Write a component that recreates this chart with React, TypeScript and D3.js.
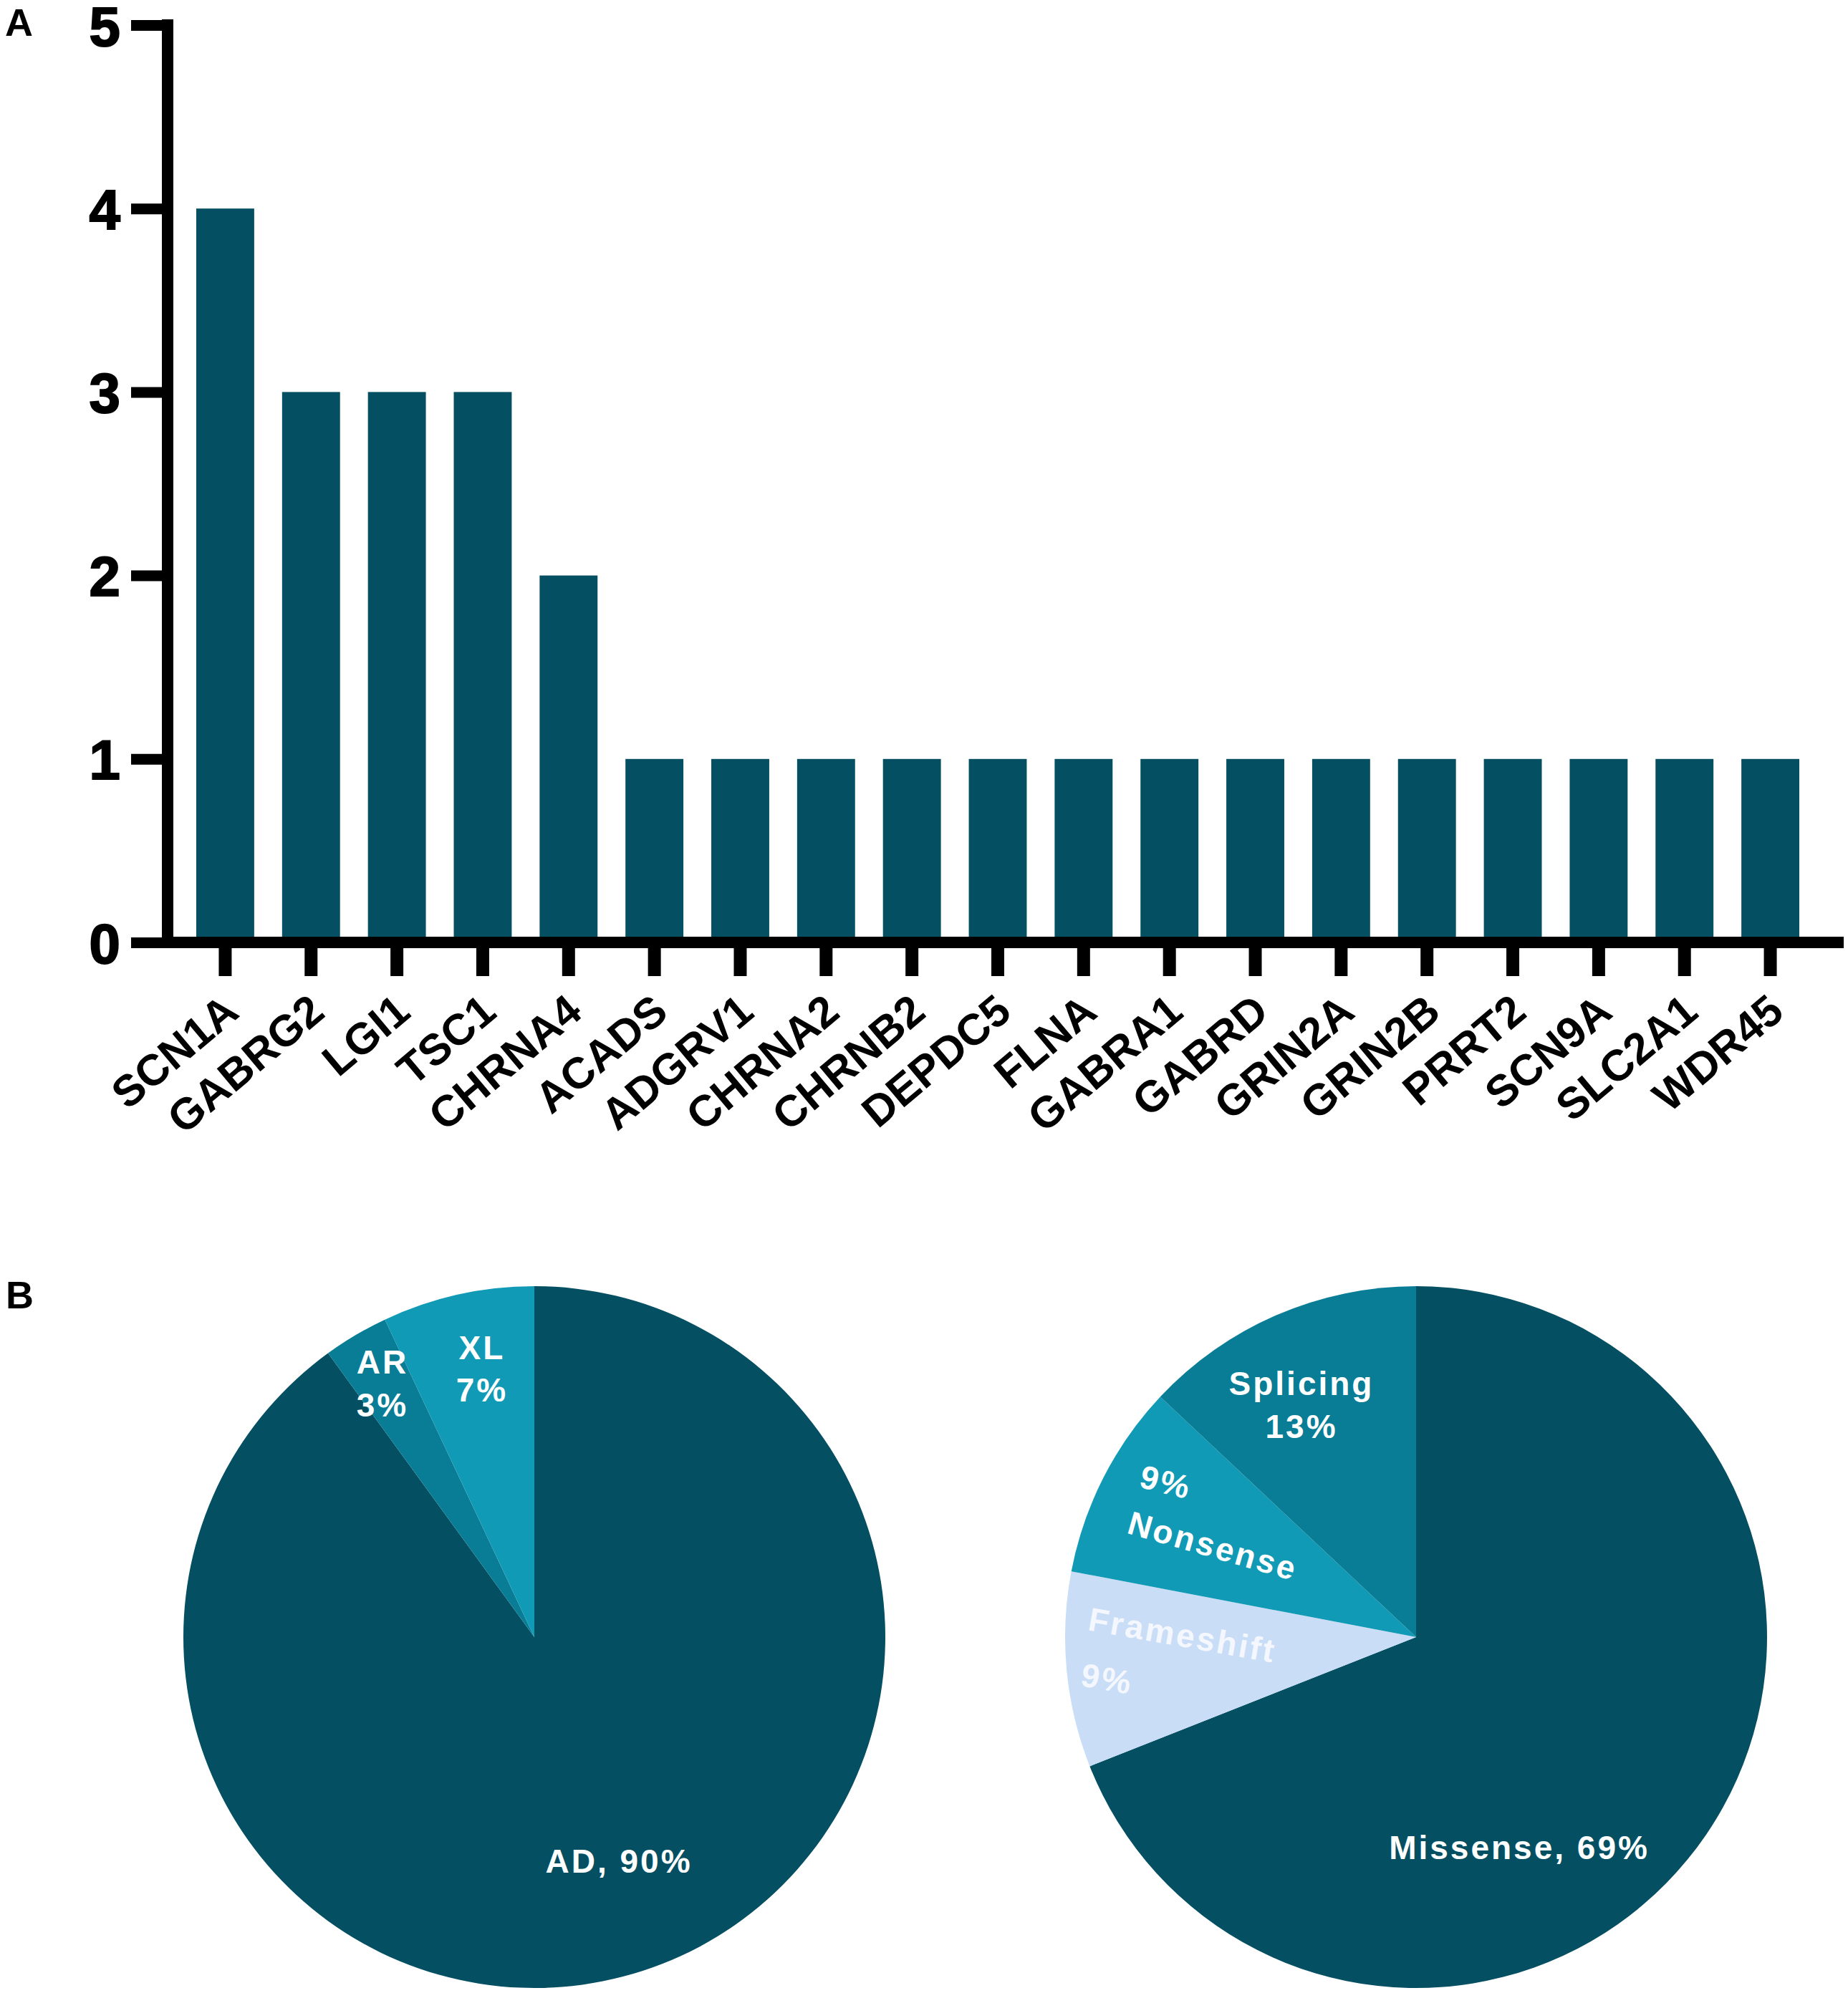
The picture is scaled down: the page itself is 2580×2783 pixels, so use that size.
import React, { useEffect, useRef } from 'react';
import * as d3 from 'd3';

const genes = ['SCN1A', 'GABRG2', 'LGI1', 'TSC1', 'CHRNA4', 'ACADS', 'ADGRV1', 'CHRNA2', 'CHRNB2', 'DEPDC5',
  'FLNA', 'GABRA1', 'GABRD', 'GRIN2A', 'GRIN2B', 'PRRT2', 'SCN9A', 'SLC2A1', 'WDR45'];
const geneCounts = [4, 3, 3, 3, 2, 1, 1, 1, 1, 1, 1, 1, 1, 1, 1, 1, 1, 1, 1];
const yTicks = [0, 1, 2, 3, 4, 5];

const inheritanceModes = ['AD', 'AR', 'XL'];
const inheritancePct = [90, 3, 7];

const variantTypes = ['Missense', 'Frameshift', 'Nonsense', 'Splicing'];
const variantPct = [69, 9, 9, 13];

const DARK = '#044f62';
const MID = '#087d95';
const BRIGHT = '#119ab5';
const PALE = '#c9ddf6';

type LabelLine = { text: string; dx: number; dy: number; rot: number };

const W = 2580;
const H = 2783;
const FONT = '"Liberation Sans", Arial, Helvetica, sans-serif';

const App: React.FC = () => {
  const svgRef = useRef<SVGSVGElement>(null);

  useEffect(() => {
    document.body.style.margin = '0';
    if (!svgRef.current) return;
    const svg = d3.select(svgRef.current);
    svg.selectAll('*').remove();

    svg.append('rect').attr('width', W).attr('height', H).attr('fill', '#fff');

    // ---------- panel A: bar chart ----------
    const axisX = 234;
    const x = d3.scaleBand<string>()
      .domain(genes)
      .range([236, 2550])
      .paddingInner(0.325)
      .paddingOuter(0.317);
    const y = d3.scaleLinear().domain([0, 5]).range([1316, 35]);

    const gA = svg.append('g');

    gA.selectAll('rect.bar')
      .data(genes)
      .join('rect')
      .attr('class', 'bar')
      .attr('x', d => x(d)!)
      .attr('width', x.bandwidth())
      .attr('y', (d, i) => y(geneCounts[i]))
      .attr('height', (d, i) => y(0) - y(geneCounts[i]))
      .attr('fill', DARK);

    // y axis
    const yAxis = gA.append('g')
      .attr('transform', `translate(${axisX},0)`)
      .call(d3.axisLeft(y).tickValues(yTicks).tickFormat(d3.format('d')).tickSize(51).tickSizeOuter(0).tickPadding(15));
    yAxis.select('.domain').remove();
    yAxis.selectAll('.tick line').attr('stroke', '#000').attr('stroke-width', 15);
    yAxis.selectAll('.tick text')
      .attr('fill', '#000')
      .attr('stroke', '#000')
      .attr('stroke-width', 2)
      .attr('font-family', FONT)
      .attr('font-weight', 'bold')
      .attr('font-size', 78)
      .attr('dy', '0.36em');

    // x axis
    const xAxis = gA.append('g')
      .attr('transform', `translate(0,${y(0)})`)
      .call(d3.axisBottom(x).tickSize(47).tickSizeOuter(0));
    xAxis.select('.domain').remove();
    xAxis.selectAll('.tick line').attr('stroke', '#000').attr('stroke-width', 18);
    xAxis.selectAll('.tick text')
      .attr('fill', '#000')
      .attr('font-family', FONT)
      .attr('font-weight', 'bold')
      .attr('font-size', 61)
      .attr('text-anchor', 'end')
      .attr('x', 0)
      .attr('y', 0)
      .attr('dy', 0)
      .attr('transform', 'translate(22,102) rotate(-40)');

    // axis lines
    gA.append('line')
      .attr('x1', axisX).attr('x2', axisX)
      .attr('y1', 27).attr('y2', y(0) + 8)
      .attr('stroke', '#000').attr('stroke-width', 16);
    gA.append('line')
      .attr('x1', axisX - 8).attr('x2', 2574)
      .attr('y1', y(0)).attr('y2', y(0))
      .attr('stroke', '#000').attr('stroke-width', 16);

    // panel letters
    svg.append('text').text('A')
      .attr('x', 7).attr('y', 50)
      .attr('font-family', FONT).attr('font-weight', 'bold').attr('font-size', 54);
    svg.append('text').text('B')
      .attr('x', 8).attr('y', 1827)
      .attr('font-family', FONT).attr('font-weight', 'bold').attr('font-size', 54);

    // ---------- panel B: pies ----------
    const R = 490;
    const arc = d3.arc<d3.PieArcDatum<number>>().innerRadius(0).outerRadius(R);
    const pie = d3.pie<number>().sort(null).value(d => d);

    const drawPie = (cx: number, cy: number, values: number[], colors: string[],
      labels: LabelLine[][], labelColors: string[]) => {
      const g = svg.append('g').attr('transform', `translate(${cx},${cy})`);
      const arcs = pie(values);
      g.selectAll('path')
        .data(arcs)
        .join('path')
        .attr('d', arc)
        .attr('fill', (d, i) => colors[i]);

      labels.forEach((lines, i) => {
        lines.forEach(l => {
          g.append('text')
            .text(l.text)
            .attr('transform', `translate(${l.dx},${l.dy}) rotate(${l.rot})`)
            .attr('text-anchor', 'middle')
            .attr('font-family', FONT)
            .attr('font-weight', 'bold')
            .attr('font-size', 46)
            .attr('letter-spacing', 3)
            .attr('fill', labelColors[i]);
        });
      });
    };

    const pct = (v: number) => `${v}%`;

    drawPie(746, 2286, inheritancePct, [DARK, MID, BRIGHT], [
      [{ text: `${inheritanceModes[0]}, ${pct(inheritancePct[0])}`, dx: 118, dy: 329, rot: 0 }],
      [
        { text: inheritanceModes[1], dx: -212, dy: -368, rot: 0 },
        { text: pct(inheritancePct[1]), dx: -212, dy: -308, rot: 0 }
      ],
      [
        { text: inheritanceModes[2], dx: -73, dy: -388, rot: 0 },
        { text: pct(inheritancePct[2]), dx: -73, dy: -329, rot: 0 }
      ]
    ], ['#fff', '#fff', '#fff']);

    drawPie(1977, 2286, variantPct, [DARK, PALE, BRIGHT, MID], [
      [{ text: `${variantTypes[0]}, ${pct(variantPct[0])}`, dx: 144, dy: 310, rot: 0 }],
      [
        { text: variantTypes[1], dx: -329, dy: 13, rot: 10 },
        { text: pct(variantPct[1]), dx: -434, dy: 74, rot: 10 }
      ],
      [
        { text: pct(variantPct[2]), dx: -353, dy: -201, rot: 14 },
        { text: variantTypes[2], dx: -288, dy: -112, rot: 16 }
      ],
      [
        { text: variantTypes[3], dx: -160, dy: -338, rot: 0 },
        { text: pct(variantPct[3]), dx: -160, dy: -278, rot: 0 }
      ]
    ], ['#fff', '#f4f8fe', '#fff', '#fff']);
  }, []);

  return (
    <svg
      ref={svgRef}
      width={W}
      height={H}
      viewBox={`0 0 ${W} ${H}`}
      style={{ display: 'block' }}
    />
  );
};

export default App;
